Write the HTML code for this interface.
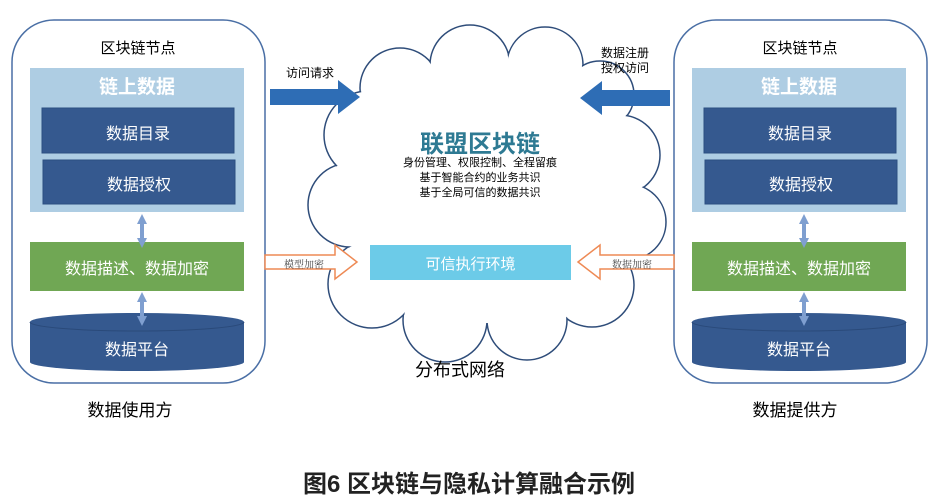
<!DOCTYPE html>
<html><head><meta charset="utf-8"><style>
body{margin:0;width:938px;height:504px;background:#fff;position:relative;overflow:hidden;font-family:"Liberation Sans","Noto Sans CJK SC",sans-serif}
.t{position:absolute;white-space:nowrap;text-align:center}
</style></head><body>
<svg width="938" height="504" style="position:absolute;left:0;top:0">
<defs>
<g id="node">
<rect x="12" y="20" width="253" height="363" rx="42" fill="#fff" stroke="#4a6fa5" stroke-width="1.5"/>
<rect x="30" y="68" width="214" height="144" fill="#aecde3"/>
<rect x="42" y="108" width="192" height="45" fill="#35598f" stroke="#2c4e80"/>
<rect x="43" y="160" width="192" height="44" fill="#35598f" stroke="#2c4e80"/>
<rect x="30" y="242" width="214" height="49" fill="#70a754"/>
<path d="M30 322 A107 9 0 0 1 244 322 L244 362 A107 9 0 0 1 30 362 Z" fill="#35598f"/>
<path d="M30 322 A107 9 0 0 0 244 322" fill="none" stroke="#2a4a7a" stroke-width="1"/>
<path d="M142 214 L137 224 L140 224 L140 238 L137 238 L142 248 L147 238 L144 238 L144 224 L147 224 Z" fill="#7f9fd0"/>
<path d="M142 292 L137 302 L140 302 L140 316 L137 316 L142 326 L147 316 L144 316 L144 302 L147 302 Z" fill="#7f9fd0"/>
</g>
</defs>
<use href="#node"/>
<use href="#node" transform="translate(662,0)"/>
<!-- cloud -->
<g stroke="#2f4d7a" stroke-width="1.5" fill="#fff">
<circle cx="400" cy="88" r="40"/><circle cx="470" cy="65" r="40"/><circle cx="545" cy="65" r="38"/>
<circle cx="600" cy="95" r="34"/><circle cx="620" cy="155" r="40"/><circle cx="628" cy="222" r="38"/>
<circle cx="592" cy="285" r="42"/><circle cx="527" cy="320" r="40"/><circle cx="445" cy="320" r="42"/>
<circle cx="372" cy="284" r="44"/><circle cx="350" cy="205" r="42"/><circle cx="368" cy="135" r="44"/>
</g>
<g fill="#fff">
<circle cx="400" cy="88" r="39"/><circle cx="470" cy="65" r="39"/><circle cx="545" cy="65" r="37"/>
<circle cx="600" cy="95" r="33"/><circle cx="620" cy="155" r="39"/><circle cx="628" cy="222" r="37"/>
<circle cx="592" cy="285" r="41"/><circle cx="527" cy="320" r="39"/><circle cx="445" cy="320" r="41"/>
<circle cx="372" cy="284" r="43"/><circle cx="350" cy="205" r="41"/><circle cx="368" cy="135" r="43"/>
<ellipse cx="487" cy="195" rx="140" ry="128"/>
</g>
<!-- blue arrows -->
<path d="M270 89 L338 89 L338 80 L360 97 L338 114 L338 105 L270 105 Z" fill="#2e6db5"/>
<path d="M670 90 L602 90 L602 81 L580 98 L602 115 L602 106 L670 106 Z" fill="#2e6db5"/>
<!-- orange hollow arrows -->
<path d="M265 255 L335 255 L335 245 L357 262 L335 279 L335 269 L265 269 Z" fill="#fff" stroke="#ee8a55" stroke-width="1.5"/>
<path d="M674 255 L600 255 L600 245 L578 262 L600 279 L600 269 L674 269 Z" fill="#fff" stroke="#ee8a55" stroke-width="1.5"/>
<rect x="370" y="245" width="201" height="35" fill="#6ccbe8"/>
</svg>
<div class="t" style="left:88px;top:37px;width:100px;font-size:15px">区块链节点</div>
<div class="t" style="left:750px;top:37px;width:100px;font-size:15px">区块链节点</div>
<div class="t" style="left:30px;top:72px;width:214px;font-size:19px;font-weight:bold;color:#fff">链上数据</div>
<div class="t" style="left:692px;top:72px;width:214px;font-size:19px;font-weight:bold;color:#fff">链上数据</div>
<div class="t" style="left:42px;top:120px;width:192px;font-size:16px;color:#fff">数据目录</div>
<div class="t" style="left:43px;top:171px;width:192px;font-size:16px;color:#fff">数据授权</div>
<div class="t" style="left:704px;top:120px;width:192px;font-size:16px;color:#fff">数据目录</div>
<div class="t" style="left:705px;top:171px;width:192px;font-size:16px;color:#fff">数据授权</div>
<div class="t" style="left:30px;top:255px;width:214px;font-size:16px;color:#fff">数据描述、数据加密</div>
<div class="t" style="left:692px;top:255px;width:214px;font-size:16px;color:#fff">数据描述、数据加密</div>
<div class="t" style="left:30px;top:336px;width:214px;font-size:16px;color:#fff">数据平台</div>
<div class="t" style="left:692px;top:336px;width:214px;font-size:16px;color:#fff">数据平台</div>
<div class="t" style="left:70px;top:396px;width:120px;font-size:17px">数据使用方</div>
<div class="t" style="left:735px;top:396px;width:120px;font-size:17px">数据提供方</div>
<div class="t" style="left:280px;top:64px;width:60px;font-size:12px">访问请求</div>
<div class="t" style="left:595px;top:46px;width:60px;font-size:12px;line-height:15px">数据注册<br>授权访问</div>
<div class="t" style="left:276px;top:256px;width:56px;font-size:10px;font-family:'Liberation Serif','Noto Serif CJK SC',serif;color:#444">模型加密</div>
<div class="t" style="left:604px;top:256px;width:56px;font-size:10px;font-family:'Liberation Serif','Noto Serif CJK SC',serif;color:#444">数据加密</div>
<div class="t" style="left:380px;top:124px;width:200px;font-size:24px;font-weight:bold;color:#2e7a93">联盟区块链</div>
<div class="t" style="left:370px;top:156px;width:220px;font-size:11px;line-height:15px">身份管理、权限控制、全程留痕<br>基于智能合约的业务共识<br>基于全局可信的数据共识</div>
<div class="t" style="left:370px;top:253px;width:201px;font-size:15px;color:#fff">可信执行环境</div>
<div class="t" style="left:400px;top:356px;width:120px;font-size:18px">分布式网络</div>
<div class="t" style="left:209px;top:464px;width:520px;font-size:24px;font-weight:bold;color:#222">图6 区块链与隐私计算融合示例</div>
</body></html>
